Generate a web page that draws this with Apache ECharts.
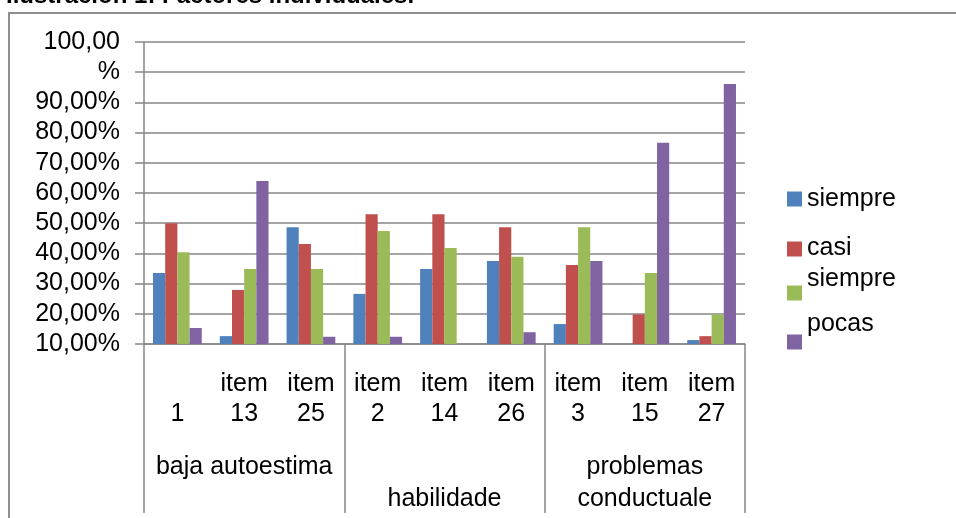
<!DOCTYPE html>
<html>
<head>
<meta charset="utf-8">
<script src="https://cdn.jsdelivr.net/npm/echarts@6/dist/echarts.min.js"></script>
<style>
  html, body { margin: 0; padding: 0; background: #fff; }
  #chart { width: 956px; height: 518px; }
  /* marco del gráfico (como en la hoja original) */
  #frame {
    position: absolute; left: 8px; top: 12px; width: 1000px; height: 600px;
    border: 2px solid #8f8f8f; pointer-events: none;
  }
</style>
</head>
<body>
<div id="chart"></div>
<div id="frame"></div>
<script>
// datos
const categories = ['item 1', 'item 13', 'item 25', 'item 2', 'item 14', 'item 26', 'item 3', 'item 15', 'item 27'];
const groups = ['baja autoestima', 'habilidade', 'problemas conductuale'];
const seriesNames = ['siempre', 'casi siempre', 'a veces', 'pocas veces'];
const siempre = [33.5, 12.6, 48.7, 26.6, 34.8, 37.5, 16.6, null, 11.3];
const casiSiempre = [50.0, 27.9, 43.1, 53.0, 53.0, 48.7, 36.2, 19.8, 12.6];
const aVeces = [40.4, 34.8, 34.8, 47.4, 41.8, 38.9, 48.7, 33.5, 19.8];
const pocasVeces = [15.3, 64.0, 12.4, 12.4, null, 13.9, 37.5, 76.6, 96.1];
// etiquetas del eje y (la de 100 sale partida en dos lineas)
const yTickValues = [10, 20, 30, 40, 50, 60, 70, 80, 90, 100, 110];
const yTickLabels = ['10,00%', '20,00%', '30,00%', '40,00%', '50,00%', '60,00%', '70,00%', '80,00%', '90,00%', '%', '100,00'];

const colors = ['#4F81BD', '#C0504D', '#9BBB59', '#8064A2'];
const font = "'Liberation Sans', Arial, sans-serif";
const grey = '#868686';

const chart = echarts.init(document.getElementById('chart'));

// una leyenda por serie para poder colocar cada texto como en la imagen
const legendText = ['siempre', '{d|casi}\n{d|siempre}', ' ', '{u|pocas}'];
const legendTop = [183.5, 206.5, 277.5, 311.5];
const legends = seriesNames.map((name, i) => ({
  data: [name],
  orient: 'vertical',
  left: 787,
  top: legendTop[i],
  padding: 0,
  itemWidth: 15,
  itemHeight: 15,
  icon: 'rect',
  formatter: () => legendText[i],
  textStyle: {
    fontFamily: font, fontSize: 25, lineHeight: 31, color: '#000',
    rich: {
      d: { fontFamily: font, fontSize: 25, lineHeight: 31, padding: [29, 0, 0, 0] },
      u: { fontFamily: font, fontSize: 25, lineHeight: 31, padding: [0, 0, 36, 0] }
    }
  }
}));

const values = [siempre, casiSiempre, aVeces, pocasVeces];

const option = {
  animation: false,
  title: {
    text: 'Ilustración 1: Factores individuales.',
    left: 6,
    top: -16,
    padding: 0,
    textStyle: { fontFamily: font, fontSize: 24, fontWeight: 'bold', color: '#000' }
  },
  legend: legends,
  grid: { left: 144, right: 211, top: 42, bottom: 174, containLabel: false },
  xAxis: [
    {
      type: 'category',
      data: categories,
      axisLine: { lineStyle: { color: grey, width: 1.5 } },
      axisTick: { length: 84, interval: 0, lineStyle: { color: grey, width: 1.5 } },
      axisLabel: {
        interval: 0,
        margin: 25,
        fontFamily: font, fontSize: 25, lineHeight: 30, color: '#000',
        formatter: (v, i) => {
          const p = v.split(' ');
          return i === 0 ? '\n' + p[1] : p[0] + '\n' + p[1];
        }
      }
    },
    {
      type: 'category',
      data: groups,
      position: 'bottom',
      axisLine: { show: false },
      axisTick: { show: true, length: 169, interval: 0, lineStyle: { color: grey, width: 1.5 } },
      axisLabel: {
        interval: 0,
        margin: 107,
        fontFamily: font, fontSize: 25, lineHeight: 32, color: '#000',
        formatter: (v) => {
          if (v === 'habilidade') return '\n' + v;
          if (v === 'problemas conductuale') return 'problemas\nconductuale';
          return v;
        }
      }
    }
  ],
  yAxis: {
    type: 'value',
    min: 10,
    max: 110,
    interval: 10,
    axisLine: { show: true, lineStyle: { color: grey, width: 1.5 } },
    axisTick: { show: true, length: 9, lineStyle: { color: grey, width: 1.5 } },
    splitLine: { lineStyle: { color: grey, width: 1.5 } },
    axisLabel: {
      margin: 24,
      fontFamily: font, fontSize: 25, color: '#000',
      formatter: (v) => yTickLabels[yTickValues.indexOf(Math.round(v))]
    }
  },
  series: seriesNames.map((name, i) => ({
    name: name,
    type: 'bar',
    xAxisIndex: 0,
    data: values[i],
    barGap: '0%',
    barCategoryGap: '27%',
    itemStyle: { color: colors[i] }
  }))
};

chart.setOption(option);
</script>
</body>
</html>
